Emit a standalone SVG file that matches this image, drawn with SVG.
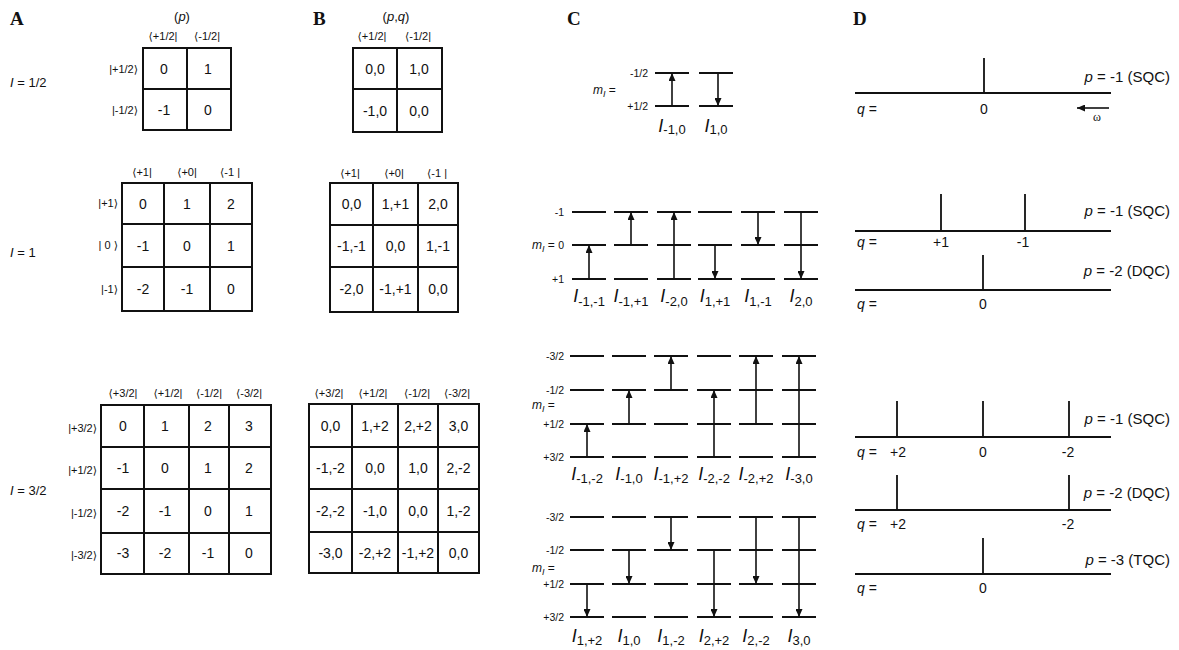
<svg xmlns="http://www.w3.org/2000/svg" width="1179" height="650" viewBox="0 0 1179 650">
<style>
.g{fill:none;stroke:#111;stroke-width:2}
.t{font-family:"Liberation Sans",Arial,"DejaVu Sans",sans-serif;fill:#111}
.cell{font-size:14px;text-anchor:middle}
.hd{font-size:11px;text-anchor:middle}
.rl{font-size:11px;text-anchor:end}
.big{font-size:13px}
.lv{stroke:#111;stroke-width:2}
.ar{stroke:#111;stroke-width:1.6;marker-end:url(#ah)}
.bl{stroke:#111;stroke-width:1.8}
.pl{font-family:"Liberation Serif","Times New Roman",serif;font-weight:bold;font-size:19px;fill:#111}
.ml{font-size:10.5px;text-anchor:end}
.mi{font-size:12px}
.lab{font-size:13px;text-anchor:middle}
.li{font-size:18px;font-style:italic}
.pq{font-size:15px;text-anchor:end}
.qn{font-size:14px;text-anchor:middle}
.it{font-style:italic}
</style>
<defs>
<marker id="ah" markerWidth="8" markerHeight="7" refX="8" refY="3.5" orient="auto" markerUnits="userSpaceOnUse"><path d="M0,0 L8,3.5 L0,7 z" fill="#111"/></marker>
</defs>
<rect width="1179" height="650" fill="#fff"/>

<!-- Panel labels -->
<text class="pl" x="10" y="25">A</text>
<text class="pl" x="313" y="25">B</text>
<text class="pl" x="567" y="25">C</text>
<text class="pl" x="853" y="25">D</text>

<!-- Panel A, I=1/2 -->
<g id="A-half" class="t">
<text class="big" x="182" y="21" text-anchor="middle">(<tspan class="it">p</tspan>)</text>
<text class="big" x="10" y="87"><tspan class="it">I</tspan> = 1/2</text>
<text class="hd" x="163" y="40">⟨+1/2|</text>
<text class="hd" x="207" y="40">⟨-1/2|</text>
<text class="rl" x="138" y="73">|+1/2⟩</text>
<text class="rl" x="138" y="114">|-1/2⟩</text>
<rect class="g" x="143" y="48" width="88" height="82"/>
<path class="g" d="M187,48V130M143,89H231"/>
<text class="cell" x="164" y="74">0</text><text class="cell" x="208" y="74">1</text>
<text class="cell" x="164" y="115">-1</text><text class="cell" x="208" y="115">0</text>
</g>

<!-- Panel A, I=1 -->
<g id="A-one" class="t">
<text class="big" x="10" y="257"><tspan class="it">I</tspan> = 1</text>
<text class="hd" x="142" y="176">⟨+1|</text>
<text class="hd" x="187" y="176">⟨+0|</text>
<text class="hd" x="230" y="176">⟨-1 |</text>
<text class="rl" x="118" y="207">|+1⟩</text>
<text class="rl" x="118" y="249">| 0 ⟩</text>
<text class="rl" x="118" y="293">|-1⟩</text>
<rect class="g" x="122" y="183" width="130" height="128"/>
<path class="g" d="M164,183V311M210,183V311M122,224H252M122,267H252"/>
<text class="cell" x="143" y="209">0</text><text class="cell" x="187" y="209">1</text><text class="cell" x="231" y="209">2</text>
<text class="cell" x="143" y="251">-1</text><text class="cell" x="187" y="251">0</text><text class="cell" x="231" y="251">1</text>
<text class="cell" x="143" y="294">-2</text><text class="cell" x="187" y="294">-1</text><text class="cell" x="231" y="294">0</text>
</g>

<!-- Panel A, I=3/2 -->
<g id="A-threehalf" class="t">
<text class="big" x="10" y="495"><tspan class="it">I</tspan> = 3/2</text>
<text class="hd" x="123" y="397">⟨+3/2|</text>
<text class="hd" x="168" y="397">⟨+1/2|</text>
<text class="hd" x="209" y="397">⟨-1/2|</text>
<text class="hd" x="249" y="397">⟨-3/2|</text>
<text class="rl" x="97" y="432">|+3/2⟩</text>
<text class="rl" x="97" y="474">|+1/2⟩</text>
<text class="rl" x="97" y="517">|-1/2⟩</text>
<text class="rl" x="97" y="559">|-3/2⟩</text>
<rect class="g" x="101" y="405" width="170" height="169"/>
<path class="g" d="M144,405V574M189,405V574M229,405V574M101,447H271M101,489H271M101,533H271"/>
<text class="cell" x="123" y="431">0</text><text class="cell" x="165" y="431">1</text><text class="cell" x="208" y="431">2</text><text class="cell" x="249" y="431">3</text>
<text class="cell" x="123" y="473">-1</text><text class="cell" x="165" y="473">0</text><text class="cell" x="208" y="473">1</text><text class="cell" x="249" y="473">2</text>
<text class="cell" x="123" y="516">-2</text><text class="cell" x="165" y="516">-1</text><text class="cell" x="208" y="516">0</text><text class="cell" x="249" y="516">1</text>
<text class="cell" x="123" y="558">-3</text><text class="cell" x="165" y="558">-2</text><text class="cell" x="208" y="558">-1</text><text class="cell" x="249" y="558">0</text>
</g>

<!-- Panel B, I=1/2 -->
<g id="B-half" class="t">
<text class="big" x="396" y="21" text-anchor="middle">(<tspan class="it">p</tspan>,<tspan class="it">q</tspan>)</text>
<text class="hd" x="372" y="40">⟨+1/2|</text>
<text class="hd" x="418" y="40">⟨-1/2|</text>
<rect class="g" x="353" y="48" width="89" height="84"/>
<path class="g" d="M397,48V132M353,89H442"/>
<text class="cell" x="375" y="74">0,0</text><text class="cell" x="419" y="74">1,0</text>
<text class="cell" x="375" y="116">-1,0</text><text class="cell" x="419" y="116">0,0</text>
</g>

<!-- Panel B, I=1 -->
<g id="B-one" class="t">
<text class="hd" x="350" y="177">⟨+1|</text>
<text class="hd" x="394" y="177">⟨+0|</text>
<text class="hd" x="437" y="177">⟨-1 |</text>
<rect class="g" x="330" y="183" width="128" height="129"/>
<path class="g" d="M373,183V312M418,183V312M330,225H458M330,267H458"/>
<text class="cell" x="351.5" y="209">0,0</text><text class="cell" x="395.5" y="209">1,+1</text><text class="cell" x="438" y="209">2,0</text>
<text class="cell" x="351.5" y="251">-1,-1</text><text class="cell" x="395.5" y="251">0,0</text><text class="cell" x="438" y="251">1,-1</text>
<text class="cell" x="351.5" y="294">-2,0</text><text class="cell" x="395.5" y="294">-1,+1</text><text class="cell" x="438" y="294">0,0</text>
</g>

<!-- Panel B, I=3/2 -->
<g id="B-threehalf" class="t">
<text class="hd" x="329" y="397">⟨+3/2|</text>
<text class="hd" x="373" y="397">⟨+1/2|</text>
<text class="hd" x="417" y="397">⟨-1/2|</text>
<text class="hd" x="457" y="397">⟨-3/2|</text>
<rect class="g" x="309" y="404" width="170" height="169"/>
<path class="g" d="M352,404V573M398,404V573M438,404V573M309,447H479M309,489H479M309,532H479"/>
<text class="cell" x="330.5" y="431">0,0</text><text class="cell" x="375" y="431">1,+2</text><text class="cell" x="418" y="431">2,+2</text><text class="cell" x="458.5" y="431">3,0</text>
<text class="cell" x="330.5" y="473">-1,-2</text><text class="cell" x="375" y="473">0,0</text><text class="cell" x="418" y="473">1,0</text><text class="cell" x="458.5" y="473">2,-2</text>
<text class="cell" x="330.5" y="516">-2,-2</text><text class="cell" x="375" y="516">-1,0</text><text class="cell" x="418" y="516">0,0</text><text class="cell" x="458.5" y="516">1,-2</text>
<text class="cell" x="330.5" y="558">-3,0</text><text class="cell" x="375" y="558">-2,+2</text><text class="cell" x="418" y="558">-1,+2</text><text class="cell" x="458.5" y="558">0,0</text>
</g>

<!-- Panel C, I=1/2 -->
<g id="C-half" class="t">
<text class="mi" x="593" y="94"><tspan class="it">m</tspan><tspan class="it" font-size="9" dy="3">I</tspan><tspan dy="-3"> =</tspan></text>
<text class="ml" x="648" y="77">-1/2</text>
<text class="ml" x="648" y="110">+1/2</text>
<path class="lv" d="M655,73H689M655,106H689M699,73H733M699,106H733"/>
<text class="lab" x="672" y="132"><tspan class="li">I</tspan><tspan dy="2">-1,0</tspan></text>
<text class="lab" x="716" y="132"><tspan class="li">I</tspan><tspan dy="2">1,0</tspan></text>
</g>

<!-- Panel C, I=1 -->
<g id="C-one" class="t">
<text class="mi" x="532" y="249"><tspan class="it">m</tspan><tspan class="it" font-size="9" dy="3">I</tspan><tspan dy="-3"> =</tspan></text>
<text class="ml" x="564" y="216">-1</text>
<text class="ml" x="564" y="249">0</text>
<text class="ml" x="564" y="283">+1</text>
<path class="lv" d="M572,212H606M572,245H606M572,279H606M614,212H648M614,245H648M614,279H648M657,212H691M657,245H691M657,279H691M698,212H732M698,245H732M698,279H732M741,212H775M741,245H775M741,279H775M784,212H818M784,245H818M784,279H818"/>
<text class="lab" x="589" y="302"><tspan class="li">I</tspan><tspan dy="4">-1,-1</tspan></text>
<text class="lab" x="631" y="302"><tspan class="li">I</tspan><tspan dy="4">-1,+1</tspan></text>
<text class="lab" x="674" y="302"><tspan class="li">I</tspan><tspan dy="4">-2,0</tspan></text>
<text class="lab" x="715" y="302"><tspan class="li">I</tspan><tspan dy="4">1,+1</tspan></text>
<text class="lab" x="758" y="302"><tspan class="li">I</tspan><tspan dy="4">1,-1</tspan></text>
<text class="lab" x="801" y="302"><tspan class="li">I</tspan><tspan dy="4">2,0</tspan></text>
</g>

<!-- Panel C, I=3/2 absorption -->
<g id="C-threehalf-up" class="t">
<text class="mi" x="532" y="409"><tspan class="it">m</tspan><tspan class="it" font-size="9" dy="3">I</tspan><tspan dy="-3"> =</tspan></text>
<text class="ml" x="564" y="360">-3/2</text>
<text class="ml" x="564" y="394">-1/2</text>
<text class="ml" x="564" y="428">+1/2</text>
<text class="ml" x="564" y="461">+3/2</text>
<path class="lv" d="M570,356H604M570,390H604M570,424H604M570,457H604M612,356H646M612,390H646M612,424H646M612,457H646M654,356H688M654,390H688M654,424H688M654,457H688M697,356H731M697,390H731M697,424H731M697,457H731M739,356H773M739,390H773M739,424H773M739,457H773M782,356H816M782,390H816M782,424H816M782,457H816"/>
<text class="lab" x="587" y="480"><tspan class="li">I</tspan><tspan dy="3">-1,-2</tspan></text>
<text class="lab" x="629" y="480"><tspan class="li">I</tspan><tspan dy="3">-1,0</tspan></text>
<text class="lab" x="671" y="480"><tspan class="li">I</tspan><tspan dy="3">-1,+2</tspan></text>
<text class="lab" x="714" y="480"><tspan class="li">I</tspan><tspan dy="3">-2,-2</tspan></text>
<text class="lab" x="756" y="480"><tspan class="li">I</tspan><tspan dy="3">-2,+2</tspan></text>
<text class="lab" x="799" y="480"><tspan class="li">I</tspan><tspan dy="3">-3,0</tspan></text>
</g>

<!-- Panel C, I=3/2 emission -->
<g id="C-threehalf-down" class="t">
<text class="mi" x="532" y="572"><tspan class="it">m</tspan><tspan class="it" font-size="9" dy="3">I</tspan><tspan dy="-3"> =</tspan></text>
<text class="ml" x="564" y="521">-3/2</text>
<text class="ml" x="564" y="554">-1/2</text>
<text class="ml" x="564" y="588">+1/2</text>
<text class="ml" x="564" y="621">+3/2</text>
<path class="lv" d="M570,517H604M570,550H604M570,584H604M570,617H604M612,517H646M612,550H646M612,584H646M612,617H646M654,517H688M654,550H688M654,584H688M654,617H688M697,517H731M697,550H731M697,584H731M697,617H731M739,517H773M739,550H773M739,584H773M739,617H773M782,517H816M782,550H816M782,584H816M782,617H816"/>
<text class="lab" x="587" y="642"><tspan class="li">I</tspan><tspan dy="3">1,+2</tspan></text>
<text class="lab" x="629" y="642"><tspan class="li">I</tspan><tspan dy="3">1,0</tspan></text>
<text class="lab" x="671" y="642"><tspan class="li">I</tspan><tspan dy="3">1,-2</tspan></text>
<text class="lab" x="714" y="642"><tspan class="li">I</tspan><tspan dy="3">2,+2</tspan></text>
<text class="lab" x="756" y="642"><tspan class="li">I</tspan><tspan dy="3">2,-2</tspan></text>
<text class="lab" x="799" y="642"><tspan class="li">I</tspan><tspan dy="3">3,0</tspan></text>
</g>

<!-- Panel D -->
<g id="D-half" class="t">
<text class="pq" x="1170" y="82"><tspan class="it">p</tspan> = -1 (SQC)</text>
<line class="bl" x1="855" y1="93" x2="1111" y2="93"/>
<line class="bl" x1="984" y1="58" x2="984" y2="93"/>
<text x="857" y="114" font-size="14"><tspan class="it">q</tspan> =</text>
<text class="qn" x="984" y="114">0</text>
<text x="1097" y="121" font-family="Liberation Serif,serif" font-size="12" text-anchor="middle" fill="#111">ω</text>
</g>
<g id="D-one-sqc" class="t">
<text class="pq" x="1170" y="216"><tspan class="it">p</tspan> = -1 (SQC)</text>
<line class="bl" x1="855" y1="231" x2="1111" y2="231"/>
<path class="bl" d="M941,194V231M1025,194V231"/>
<text x="857" y="247" font-size="14"><tspan class="it">q</tspan> =</text>
<text class="qn" x="941" y="247">+1</text>
<text class="qn" x="1023" y="247">-1</text>
</g>
<g id="D-one-dqc" class="t">
<text class="pq" x="1170" y="276"><tspan class="it">p</tspan> = -2 (DQC)</text>
<line class="bl" x1="855" y1="290" x2="1111" y2="290"/>
<line class="bl" x1="983" y1="255" x2="983" y2="290"/>
<text x="857" y="309" font-size="14"><tspan class="it">q</tspan> =</text>
<text class="qn" x="983" y="309">0</text>
</g>
<g id="D-threehalf-sqc" class="t">
<text class="pq" x="1170" y="424"><tspan class="it">p</tspan> = -1 (SQC)</text>
<line class="bl" x1="855" y1="437" x2="1111" y2="437"/>
<path class="bl" d="M897,401V437M983,401V437M1069,401V437"/>
<text x="857" y="457" font-size="14"><tspan class="it">q</tspan> =</text>
<text class="qn" x="898" y="457">+2</text>
<text class="qn" x="983" y="457">0</text>
<text class="qn" x="1068" y="457">-2</text>
</g>
<g id="D-threehalf-dqc" class="t">
<text class="pq" x="1170" y="498"><tspan class="it">p</tspan> = -2 (DQC)</text>
<line class="bl" x1="855" y1="510" x2="1111" y2="510"/>
<path class="bl" d="M897,475V510M1069,475V510"/>
<text x="857" y="529" font-size="14"><tspan class="it">q</tspan> =</text>
<text class="qn" x="898" y="529">+2</text>
<text class="qn" x="1068" y="529">-2</text>
</g>
<g id="D-threehalf-tqc" class="t">
<text class="pq" x="1170" y="565"><tspan class="it">p</tspan> = -3 (TQC)</text>
<line class="bl" x1="855" y1="574" x2="1111" y2="574"/>
<line class="bl" x1="983" y1="538" x2="983" y2="574"/>
<text x="857" y="593" font-size="14"><tspan class="it">q</tspan> =</text>
<text class="qn" x="983" y="593">0</text>
</g>

<!-- Connectors (transition arrows) -->
<g id="connectors">
<line class="ar" x1="672" y1="106" x2="672" y2="73"/>
<line class="ar" x1="718" y1="73" x2="718" y2="106"/>

<line class="ar" x1="589" y1="279" x2="589" y2="245"/>
<line class="ar" x1="631" y1="245" x2="631" y2="212"/>
<line class="ar" x1="674" y1="279" x2="674" y2="212"/>
<line class="ar" x1="715" y1="245" x2="715" y2="279"/>
<line class="ar" x1="758" y1="212" x2="758" y2="245"/>
<line class="ar" x1="801" y1="212" x2="801" y2="279"/>

<line class="ar" x1="587" y1="457" x2="587" y2="424"/>
<line class="ar" x1="629" y1="424" x2="629" y2="390"/>
<line class="ar" x1="671" y1="390" x2="671" y2="356"/>
<line class="ar" x1="714" y1="457" x2="714" y2="390"/>
<line class="ar" x1="756" y1="424" x2="756" y2="356"/>
<line class="ar" x1="799" y1="457" x2="799" y2="356"/>

<line class="ar" x1="587" y1="584" x2="587" y2="617"/>
<line class="ar" x1="629" y1="550" x2="629" y2="584"/>
<line class="ar" x1="671" y1="517" x2="671" y2="550"/>
<line class="ar" x1="714" y1="550" x2="714" y2="617"/>
<line class="ar" x1="756" y1="517" x2="756" y2="584"/>
<line class="ar" x1="799" y1="517" x2="799" y2="617"/>

<line class="ar" x1="1109" y1="108" x2="1077" y2="108"/>
</g>
</svg>
